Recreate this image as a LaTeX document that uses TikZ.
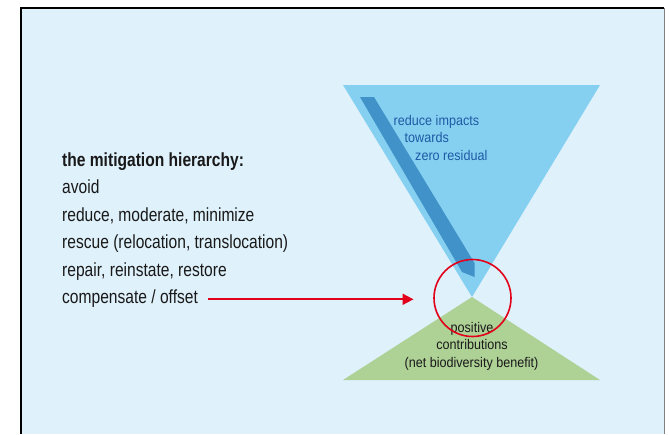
\documentclass[tikz,border=0pt]{standalone}
\usepackage{fontspec}
\newfontfamily\condA[FakeStretch=0.82]{Liberation Sans}
\newfontfamily\condB[FakeStretch=0.9]{Liberation Sans}
\usetikzlibrary{arrows.meta}
\definecolor{bgblue}{RGB}{223,241,251}
\definecolor{triblue}{RGB}{133,208,240}
\definecolor{stripeblue}{RGB}{66,146,202}
\definecolor{trigreen}{RGB}{174,209,150}
\definecolor{ringred}{RGB}{226,0,26}
\definecolor{textblue}{RGB}{30,90,165}
\definecolor{textdark}{RGB}{25,25,25}
\tikzset{
  listtext/.style={anchor=base west, inner sep=0pt, text=textdark, font=\condA\fontsize{19}{19}\selectfont},
  bluetext/.style={anchor=base west, inner sep=0pt, text=textblue, font=\condB\fontsize{14}{14}\selectfont},
  greentext/.style={anchor=base, inner sep=0pt, text=textdark, font=\condB\fontsize{14}{14}\selectfont},
}
\begin{document}
\begin{tikzpicture}[x=1pt,y=-1pt]
\useasboundingbox (0,0) rectangle (669,434);
\fill[white] (0,0) rectangle (669,434);
\fill[bgblue] (21,8) rectangle (664,434);
\draw[black, line width=1.3pt] (21,434) -- (21,8) -- (664,8);
\draw[gray, line width=0.9pt] (664,8) -- (664,434);
% triangles
\fill[triblue] (343,85) -- (600,85) -- (472,297) -- cycle;
\fill[stripeblue] (360,97) -- (374,97) -- (474.5,263) -- (474.5,277) -- (462,272) -- cycle;
\fill[trigreen] (472,297) -- (600,380) -- (343,380) -- cycle;
% left list
\node[listtext] (title) at (62,166) {\bfseries the mitigation hierarchy:};
\node[listtext] (l1) at (62,193.5) {avoid};
\node[listtext] (l2) at (62,221) {reduce, moderate, minimize};
\node[listtext] (l3) at (62,248.5) {rescue (relocation, translocation)};
\node[listtext] (l4) at (62,276) {repair, reinstate, restore};
\node[listtext] (l5) at (62,303.5) {compensate / offset};
% blue text
\node[bluetext] (b1) at (393.5,125) {reduce impacts};
\node[bluetext] (b2) at (404.5,142.7) {towards};
\node[bluetext] (b3) at (415,160.5) {zero residual};
% green text
\node[greentext] (g1) at (472,332) {positive};
\node[greentext] (g2) at (472,349.5) {contributions};
\node[greentext] (g3) at (471.5,367) {(net biodiversity benefit)};
% ring
\node[circle, draw=ringred, line width=1.6pt, minimum size=77pt, inner sep=0pt] (ring) at (472.5,298) {};
% arrow
\coordinate (astart) at (207.5,299.3);
\coordinate (atip) at (413.5,299.3);
\draw[ringred, line width=1.8pt, -{Triangle[length=11pt,width=11pt]}] (astart) -- (atip);
\end{tikzpicture}
\end{document}
